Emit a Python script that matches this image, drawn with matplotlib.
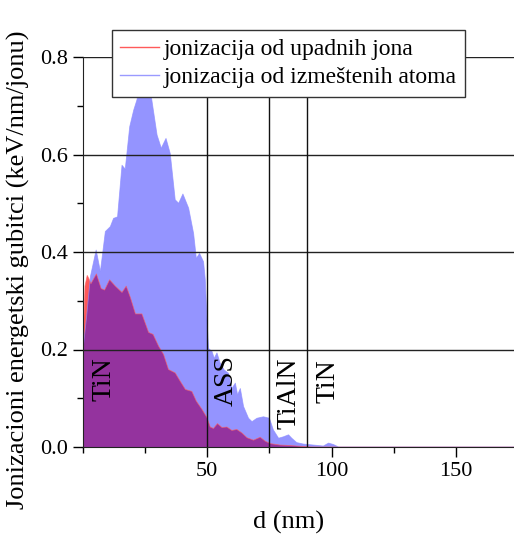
import numpy as np
import matplotlib.pyplot as plt
from matplotlib.ticker import MultipleLocator, FormatStrFormatter

plt.rcParams['font.family'] = ['Liberation Serif', 'DejaVu Serif']

# ionizacija od upadnih jona (red)
x_ion = [0, 0.8, 1.7, 2.4, 3.2, 5.4, 7.3, 8.7, 10.7, 13.0, 15.7, 17.4, 19.1, 21.1, 23.7,
         26.4, 28.2, 30.4, 32.4, 34.4, 37.1, 39.1, 41.2, 43.8, 45.6, 47.9, 49.9, 51.2, 52.5,
         54.1, 55.9, 57.9, 59.9, 61.9, 63.9, 66.0, 68.6, 71.3, 73.3, 75.3, 79.3, 83.4, 88.6,
         92, 173.5]
y_ion = [0.20, 0.33, 0.352, 0.345, 0.335, 0.355, 0.325, 0.322, 0.343, 0.33, 0.317, 0.33,
         0.306, 0.273, 0.273, 0.235, 0.231, 0.207, 0.19, 0.159, 0.152, 0.135, 0.118, 0.114,
         0.094, 0.077, 0.06, 0.041, 0.038, 0.048, 0.04, 0.041, 0.034, 0.036, 0.029, 0.019,
         0.014, 0.02, 0.012, 0.007, 0.004, 0.003, 0.001, 0.0, 0.0]

# ionizacija od izmestenih atoma (blue)
x_atom = [0, 1.5, 3.0, 5.3, 7.0, 9.0, 11.0, 12.3, 13.9, 15.7, 17.0, 18.8, 20.4, 21.7, 23.2,
          24.7, 26.2, 27.6, 29.8, 31.5, 33.4, 35.1, 37.1, 38.5, 40.2, 42.5, 44.5, 45.6, 46.9,
          48.5, 49.2, 49.9, 50.5, 51.9, 52.8, 53.9, 55.2, 56.8, 58.6, 59.9, 61.3, 62.2, 63.3,
          64.6, 66.6, 68.0, 70.0, 72.6, 75.0, 76.6, 78.7, 80.7, 82.7, 84.0, 86.0, 88.7, 92.7,
          96.7, 98.8, 100.8, 102.8, 110, 173.5]
y_atom = [0.20, 0.27, 0.35, 0.404, 0.36, 0.442, 0.452, 0.469, 0.472, 0.578, 0.57, 0.657,
          0.691, 0.712, 0.75, 0.775, 0.76, 0.715, 0.64, 0.613, 0.633, 0.602, 0.507, 0.50,
          0.519, 0.49, 0.438, 0.387, 0.397, 0.38, 0.343, 0.26, 0.202, 0.196, 0.182, 0.193,
          0.172, 0.158, 0.151, 0.12, 0.131, 0.107, 0.12, 0.083, 0.059, 0.052, 0.059, 0.062,
          0.059, 0.035, 0.018, 0.021, 0.025, 0.018, 0.009, 0.006, 0.004, 0.002, 0.008, 0.005,
          0.0, 0.0, 0.0]

layers = ['TiN', 'ASS', 'TiAlN', 'TiN']
layer_x = [8.6, 57.7, 83.0, 98.5]
layer_y = [0.14, 0.137, 0.11, 0.135]
boundaries = [50, 75, 90]

fig = plt.figure(figsize=(5.14, 5.35), dpi=100)
ax = fig.add_axes([83 / 514, 88 / 535, 431 / 514, 390 / 535])

ax.fill_between(x_ion, y_ion, 0, facecolor='#ff0000', alpha=0.65, lw=0)
ax.fill_between(x_atom, y_atom, 0, facecolor='#0000ff', alpha=0.42, lw=0)
ax.plot(x_ion, y_ion, color='#ff6060', lw=0.6, alpha=0.7)
ax.plot(x_atom, y_atom, color='#8c8cff', lw=0.6, alpha=0.7)
# legend handles
h1, = ax.plot([], [], color='#ff5a5a', lw=1.0)
h2, = ax.plot([], [], color='#9a9aff', lw=1.0)

for yv in [0.2, 0.4, 0.6, 0.8]:
    ax.axhline(yv, color='#222222', lw=1.0, zorder=3)
for xv in boundaries:
    ax.plot([xv, xv], [0, 0.8], color='#111111', lw=1.0, zorder=3)

for name, xt, yt in zip(layers, layer_x, layer_y):
    ax.text(xt, yt, name, rotation=90, ha='center', va='center', fontsize=20, zorder=4)

ax.set_xlim(0, 173.4)
ax.set_ylim(0, 0.8)
ax.spines['top'].set_visible(False)
ax.spines['right'].set_visible(False)
ax.spines['left'].set_color('#222222')
ax.spines['bottom'].set_color('#222222')

ax.xaxis.set_major_locator(MultipleLocator(50))
ax.xaxis.set_minor_locator(MultipleLocator(25))
ax.yaxis.set_major_locator(MultipleLocator(0.2))
ax.yaxis.set_minor_locator(MultipleLocator(0.1))
ax.yaxis.set_major_formatter(FormatStrFormatter('%.1f'))
ax.tick_params(which='major', direction='out', length=7, width=1, labelsize=16)
ax.tick_params(which='minor', direction='out', length=4, width=1)
ax.set_xticks([50, 100, 150])

ax.set_xlabel('d (nm)', fontsize=19)
ax.xaxis.set_label_coords(0.478, -0.165)
fig.text(0.036, 0.495, 'Jonizacioni energetski gubitci (keV/nm/jonu)', fontsize=19,
         rotation=90, ha='center', va='center')

leg = ax.legend([h1, h2], ['jonizacija od upadnih jona', 'jonizacija od izmeštenih atoma'],
                loc='upper left', bbox_to_anchor=(0.067, 1.069), fontsize=17,
                fancybox=False, framealpha=1, edgecolor='#333333', borderaxespad=0,
                handlelength=1.65, borderpad=0.35, labelspacing=0.3, handletextpad=0.2)
leg.set_zorder(5)

fig.savefig('out.png', dpi=100)
